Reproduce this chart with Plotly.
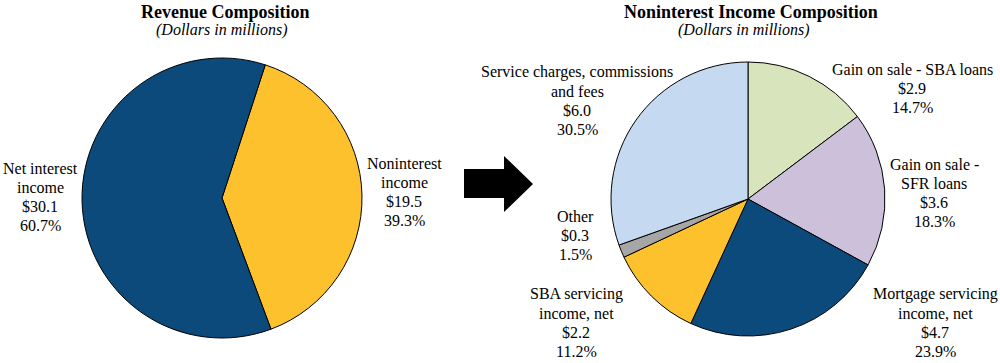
import plotly.graph_objects as go

W, H = 1000, 363

# ---- data ----
rev_labels = ["Noninterest income", "Net interest income"]
rev_values = [19.5, 30.1]
rev_pcts = [39.3, 60.7]
rev_colors = ["#FDC12D", "#0D4A7C"]

nii_labels = ["Gain on sale - SBA loans", "Gain on sale - SFR loans",
              "Mortgage servicing income, net", "SBA servicing income, net",
              "Other", "Service charges, commissions and fees"]
nii_values = [2.9, 3.6, 4.7, 2.2, 0.3, 6.0]
nii_pcts = [14.7, 18.3, 23.9, 11.2, 1.5, 30.5]
nii_colors = ["#D8E4BC", "#CCC0DA", "#0D4A7C", "#FDC12D", "#A6A6A6", "#C5D9F1"]

# display names split into lines
rev_text = [["Noninterest", "income"], ["Net interest", "income"]]
nii_text = [["Gain on sale - SBA loans"], ["Gain on sale -", "SFR loans"],
            ["Mortgage servicing", "income, net"], ["SBA servicing", "income, net"],
            ["Other"], ["Service charges, commissions", "and fees"]]

FONT = "Liberation Serif"
LINE = 19.3

def px(x):
    return x / W

def py(y):
    return 1 - y / H

fig = go.Figure()

# left pie: center (222,198), r 140
fig.add_trace(go.Pie(
    labels=rev_labels, values=rev_values, sort=False, direction="clockwise",
    rotation=18, textinfo="none", hole=0,
    marker=dict(colors=rev_colors, line=dict(color="black", width=1)),
    domain=dict(x=[px(82), px(362)], y=[py(338), py(58)]),
    showlegend=False, hoverinfo="label+value+percent",
))

# right pie: center (748,199), r 137
fig.add_trace(go.Pie(
    labels=nii_labels, values=nii_values, sort=False, direction="clockwise",
    rotation=0, textinfo="none", hole=0,
    marker=dict(colors=nii_colors, line=dict(color="black", width=1)),
    domain=dict(x=[px(611), px(885)], y=[py(336), py(62)]),
    showlegend=False, hoverinfo="label+value+percent",
))

anns = []

def text_line(t, x, y, size=16, fam=FONT):
    anns.append(dict(
        text=t, x=px(x), y=py(y), xref="paper", yref="paper",
        xanchor="center", yanchor="middle", showarrow=False, align="center",
        font=dict(family=fam, size=size, color="black"),
    ))

def label(lines, val, pct, x, y0):
    all_lines = list(lines) + [f"${val:.1f}", f"{pct:.1f}%"]
    for i, t in enumerate(all_lines):
        text_line(t, x, y0 + i * LINE)

rev_pos = [(404, 163), (40, 168)]
for t, v, p, (x, y) in zip(rev_text, rev_values, rev_pcts, rev_pos):
    label(t, v, p, x, y)

nii_pos = [(912, 69), (934, 164), (935, 294), (576, 294), (575, 216), (577, 72)]
for t, v, p, (x, y) in zip(nii_text, nii_values, nii_pcts, nii_pos):
    label(t, v, p, x, y)

def title(main, x, xs):
    text_line(f"<b>{main}</b>", x, 12, size=18)
    text_line("<i>(Dollars in millions)</i>", xs, 30, size=16)

title("Revenue Composition", 225, 222)
title("Noninterest Income Composition", 751, 744)

# block arrow
pts = [(464, 169), (504, 169), (504, 156), (533, 184), (504, 212), (504, 198), (464, 198)]
path = "M " + " L ".join(f"{px(a):.5f},{py(b):.5f}" for a, b in pts) + " Z"

fig.update_layout(
    width=W, height=H, margin=dict(l=0, r=0, t=0, b=0),
    paper_bgcolor="white", plot_bgcolor="white",
    annotations=anns,
    shapes=[dict(type="path", path=path, xref="paper", yref="paper",
                 fillcolor="black", line=dict(color="black", width=0))],
)

fig.write_html("out.html")
